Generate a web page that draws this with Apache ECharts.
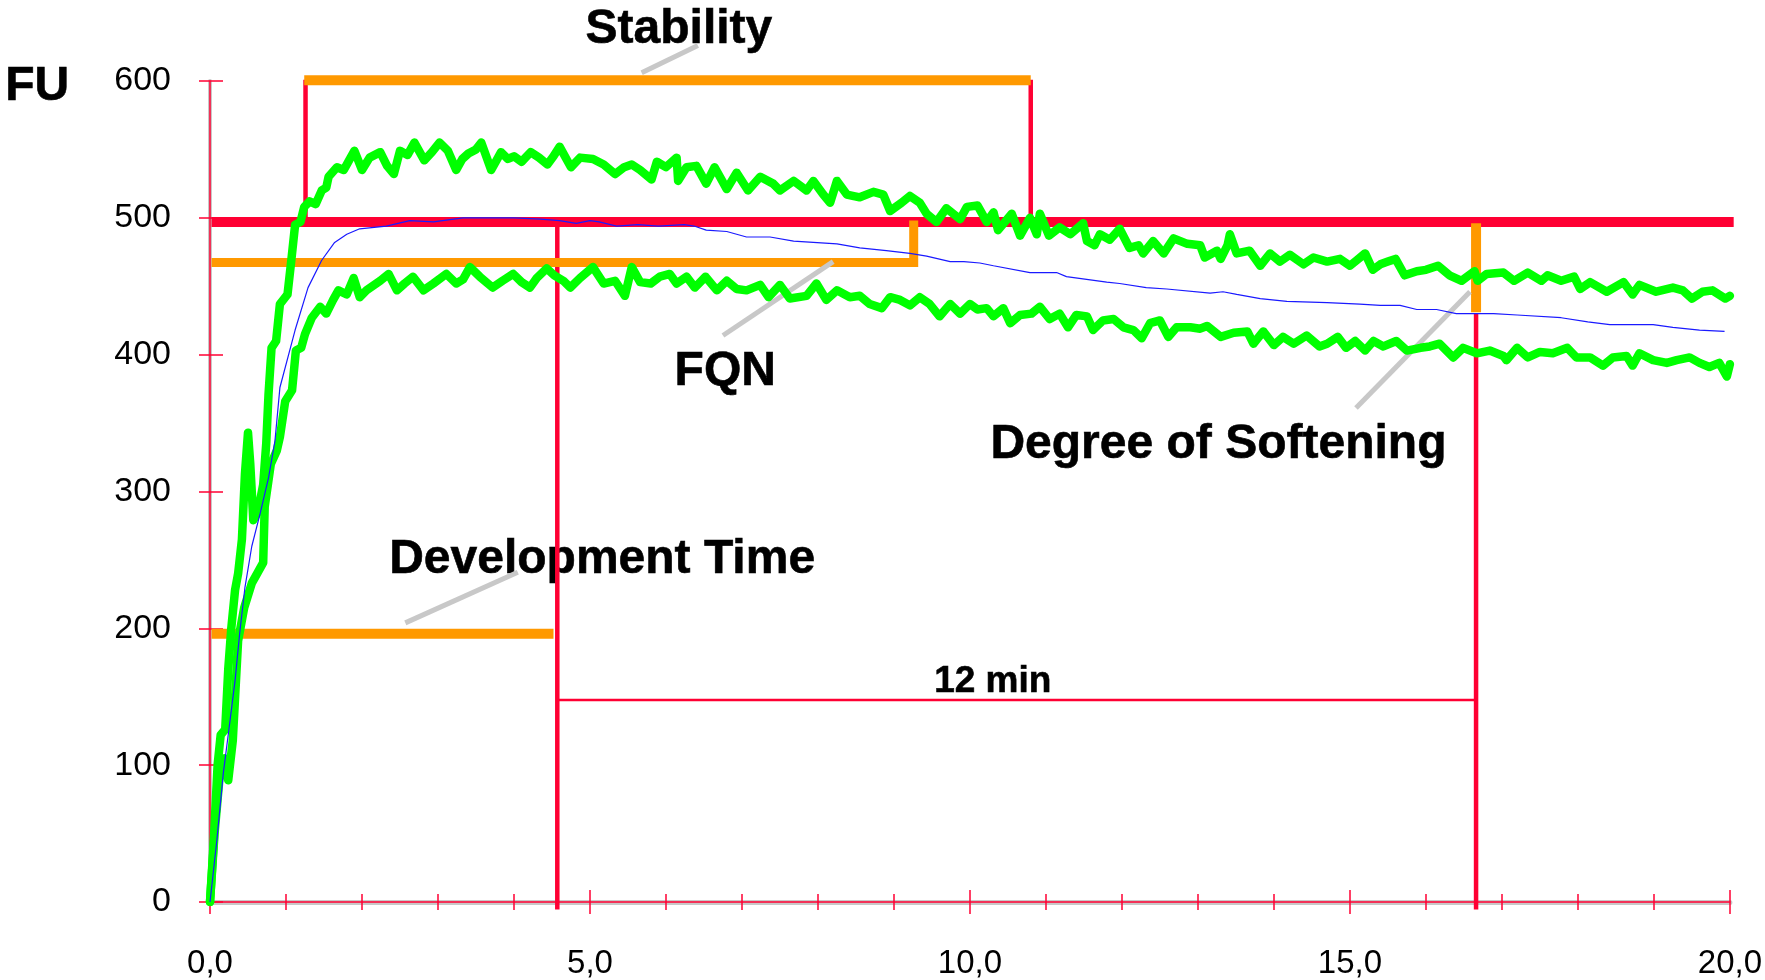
<!DOCTYPE html>
<html>
<head>
<meta charset="utf-8">
<script src="https://cdn.jsdelivr.net/npm/echarts@6/dist/echarts.min.js"></script>
<style>
  html, body { margin: 0; padding: 0; background: #fff; }
  #chart { width: 1765px; height: 980px; }
</style>
</head>
<body>
<div id="chart"></div>
<script>
// farinogram: time in min, consistency in FU
const xTicks = [0, 5, 10, 15, 20]
const yTicks = [0, 100, 200, 300, 400, 500, 600]

// upper edge of the green band
const upperCurve = [
  [0, 0], [0.05, 45], [0.1, 100], [0.14, 122], [0.2, 126], [0.24, 170], [0.28, 200], [0.33, 228],
  [0.37, 240], [0.42, 265], [0.46, 313], [0.5, 343], [0.53, 320], [0.57, 279], [0.63, 285], [0.7, 305],
  [0.74, 335], [0.77, 371], [0.81, 405], [0.87, 410], [0.92, 437], [1.02, 444], [1.07, 469], [1.12, 495],
  [1.19, 497], [1.24, 508], [1.31, 512], [1.39, 510], [1.47, 520], [1.53, 522], [1.56, 530], [1.67, 537],
  [1.76, 535], [1.81, 540], [1.9, 549], [2.0, 535], [2.1, 544], [2.24, 548], [2.33, 538], [2.42, 532],
  [2.5, 549], [2.6, 546], [2.69, 555], [2.82, 542], [2.92, 548], [3.02, 555], [3.13, 549], [3.24, 535],
  [3.32, 543], [3.4, 547], [3.5, 550], [3.57, 555], [3.7, 535], [3.83, 548], [3.92, 543], [4.0, 545],
  [4.1, 541], [4.22, 548], [4.33, 544], [4.44, 539], [4.52, 545], [4.6, 552], [4.75, 537], [4.87, 544],
  [5.04, 543], [5.18, 539], [5.33, 532], [5.45, 537], [5.55, 539], [5.66, 535], [5.81, 528], [5.88, 541],
  [6.0, 537], [6.14, 544], [6.16, 527], [6.27, 537], [6.4, 538], [6.53, 525], [6.64, 537], [6.8, 521],
  [6.93, 533], [7.08, 520], [7.24, 530], [7.41, 525], [7.5, 520], [7.68, 527], [7.85, 520], [7.94, 527],
  [8.07, 517], [8.16, 511], [8.25, 527], [8.38, 517], [8.55, 515], [8.73, 519], [8.86, 517], [8.95, 505],
  [9.1, 511], [9.21, 516], [9.34, 511], [9.43, 503], [9.56, 497], [9.69, 507], [9.87, 499], [9.96, 508],
  [10.1, 509], [10.22, 497], [10.31, 504], [10.37, 491], [10.55, 503], [10.66, 487], [10.79, 500], [10.88, 488],
  [10.92, 503], [11.04, 487], [11.18, 493], [11.32, 488], [11.49, 496], [11.54, 483], [11.64, 480], [11.71, 488],
  [11.84, 484], [11.97, 492], [12.1, 478], [12.22, 480], [12.28, 474], [12.41, 483], [12.55, 474], [12.68, 485],
  [12.86, 481], [13.03, 480], [13.09, 471], [13.25, 476], [13.3, 470], [13.39, 480], [13.42, 488], [13.51, 474],
  [13.68, 476], [13.82, 465], [13.95, 474], [14.08, 468], [14.21, 473], [14.39, 466], [14.52, 471], [14.7, 468],
  [14.87, 470], [15.0, 465], [15.09, 469], [15.2, 474], [15.3, 462], [15.4, 466], [15.5, 468], [15.6, 470],
  [15.72, 458], [15.88, 461], [16.0, 462], [16.16, 465], [16.31, 458], [16.47, 454], [16.64, 461], [16.68, 454],
  [16.8, 459], [17.02, 460], [17.16, 454], [17.34, 460], [17.52, 454], [17.6, 458], [17.78, 454], [17.95, 457],
  [18.03, 448], [18.16, 453], [18.38, 446], [18.6, 453], [18.72, 444], [18.81, 451], [19.03, 446], [19.25, 449],
  [19.38, 447], [19.5, 441], [19.64, 446], [19.77, 447], [19.94, 441], [20.0, 443]
]

// lower edge of the green band
const lowerCurve = [
  [0, 0], [0.06, 50], [0.1, 75], [0.14, 100], [0.19, 105], [0.24, 89], [0.3, 118], [0.37, 191],
  [0.45, 215], [0.55, 233], [0.62, 240], [0.7, 248], [0.72, 289], [0.8, 320], [0.88, 330], [0.92, 340],
  [0.99, 366], [1.08, 374], [1.13, 403], [1.2, 405], [1.25, 415], [1.34, 427], [1.45, 435], [1.53, 430],
  [1.62, 440], [1.69, 447], [1.8, 444], [1.89, 456], [1.97, 442], [2.06, 447], [2.24, 454], [2.35, 459],
  [2.46, 447], [2.56, 452], [2.67, 457], [2.81, 447], [2.94, 452], [3.11, 459], [3.24, 452], [3.33, 455],
  [3.42, 464], [3.55, 457], [3.72, 449], [3.85, 454], [3.99, 459], [4.1, 453], [4.21, 449], [4.3, 456],
  [4.43, 463], [4.53, 458], [4.65, 454], [4.74, 449], [4.87, 456], [5.04, 464], [5.18, 452], [5.33, 454],
  [5.46, 443], [5.55, 464], [5.66, 453], [5.8, 452], [5.92, 457], [6.05, 459], [6.14, 452], [6.27, 457],
  [6.38, 449], [6.52, 457], [6.67, 447], [6.8, 454], [6.93, 448], [7.06, 447], [7.24, 451], [7.35, 442],
  [7.5, 451], [7.63, 441], [7.85, 443], [7.98, 452], [8.11, 440], [8.25, 447], [8.42, 442], [8.55, 443],
  [8.68, 437], [8.84, 434], [8.95, 442], [9.08, 440], [9.21, 436], [9.34, 442], [9.47, 437], [9.6, 428],
  [9.74, 437], [9.87, 430], [10.0, 437], [10.1, 433], [10.22, 434], [10.31, 428], [10.44, 434], [10.53, 423],
  [10.66, 429], [10.81, 430], [10.92, 435], [11.05, 426], [11.18, 430], [11.29, 420], [11.4, 429], [11.54, 428],
  [11.62, 418], [11.75, 425], [11.89, 426], [12.02, 420], [12.15, 418], [12.26, 412], [12.37, 423], [12.5, 425],
  [12.61, 413], [12.72, 420], [12.9, 420], [13.03, 419], [13.12, 421], [13.3, 413], [13.47, 416], [13.65, 417],
  [13.73, 408], [13.86, 417], [14.0, 407], [14.12, 413], [14.26, 408], [14.43, 414], [14.6, 406], [14.7, 408],
  [14.84, 413], [14.95, 405], [15.07, 410], [15.2, 403], [15.31, 410], [15.44, 406], [15.61, 410], [15.75, 403],
  [15.93, 405], [16.05, 406], [16.18, 408], [16.36, 398], [16.49, 405], [16.67, 401], [16.84, 403], [17.02, 399],
  [17.06, 396], [17.2, 405], [17.34, 398], [17.5, 402], [17.67, 401], [17.86, 405], [17.98, 398], [18.16, 398],
  [18.33, 392], [18.46, 398], [18.64, 399], [18.72, 392], [18.81, 401], [18.99, 396], [19.17, 394], [19.3, 396],
  [19.47, 398], [19.6, 394], [19.73, 391], [19.86, 394], [19.96, 384], [20.0, 393]
]

// median curve (blue)
const medianCurve = [
  [0, 0], [0.09, 45], [0.175, 94], [0.26, 131], [0.33, 162], [0.39, 196], [0.46, 230], [0.55, 260],
  [0.66, 284], [0.77, 310], [0.855, 337], [0.92, 376], [1.12, 418], [1.29, 449], [1.47, 469], [1.64, 482],
  [1.8, 488], [1.97, 492], [2.32, 494], [2.63, 498], [2.94, 497], [3.33, 500], [3.6, 500], [4.0, 500],
  [4.35, 499], [4.6, 498], [4.82, 496], [5.0, 498], [5.12, 497], [5.35, 494], [5.63, 495], [5.9, 494],
  [6.24, 495], [6.37, 494], [6.53, 491], [6.8, 490], [7.06, 486], [7.37, 486], [7.68, 483], [8.25, 481],
  [8.55, 478], [8.9, 476], [9.21, 474], [9.43, 472], [9.74, 468], [9.92, 468], [10.13, 467], [10.31, 465],
  [10.79, 460], [11.14, 460], [11.27, 457], [11.8, 453], [11.97, 452], [12.32, 449], [12.59, 448], [13.16, 445],
  [13.33, 446], [13.51, 444], [13.82, 441], [14.17, 439], [14.7, 438], [15.13, 437], [15.4, 436], [15.66, 436],
  [15.88, 433], [16.14, 433], [16.4, 430], [16.89, 430], [17.2, 429], [17.78, 427], [18.13, 424], [18.42, 422],
  [18.99, 422], [19.25, 420], [19.6, 418], [19.93, 417]
]

// evaluation marks
const line500 = [[0.02, 497], [20.05, 497]]
const stabilityTop = [[1.24, 600.5], [10.8, 600.5]]
const stabilityLeft = [[1.257, 601], [1.257, 497]]
const stabilityRight = [[10.8, 601], [10.8, 497]]
const devTimeBar = [[0.02, 196], [4.52, 196]]
const devTimeDrop = [[4.57, 497], [4.57, -5.5]]
const fqnBar = [[0.02, 467.4], [9.26, 467.4], [9.26, 498]]
const softeningBar = [[16.66, 496], [16.66, 431]]
const softeningDrop = [[16.66, 430], [16.66, -5.5]]
const twelveMin = [[4.57, 147.7], [16.66, 147.7]]

// grey pointer lines
const stabilityPointer = [[5.68, 606], [6.42, 626]]
const devTimePointer = [[2.57, 204], [4.05, 241]]
const fqnPointer = [[6.75, 414], [8.2, 468]]
const softeningPointer = [[15.08, 361], [16.58, 446]]

const noteTexts = ['Stability', 'Development Time', 'FQN', 'Degree of Softening']
const notePos = [[6.17, 637.5], [5.16, 250], [6.78, 387.5], [13.27, 334.5]]

const RED = '#ff0033'
const ORANGE = '#ff9900'
const GREEN = '#00ff00'
const GREY = '#c8c8c8'
const FONT = 'Liberation Sans'

function seg(data, color, width) {
  return {
    type: 'line',
    data: data,
    symbol: 'none',
    clip: false,
    silent: true,
    lineStyle: { color: color, width: width, cap: 'butt', join: 'miter' }
  }
}

// text notes anchored at data coordinates (scatter dims to 0.8 by default)
function notes(data, size) {
  return {
    type: 'scatter', silent: true, clip: false, symbolSize: 0,
    itemStyle: { color: '#000', opacity: 1 },
    data: data,
    label: {
      show: true, position: 'inside', formatter: '{b}',
      fontFamily: FONT, fontWeight: 'bold', fontSize: size, color: '#000',
      textBorderColor: '#000', textBorderWidth: 0.6
    }
  }
}

const chart = echarts.init(document.getElementById('chart'))

const option = {
  animation: false,
  backgroundColor: '#fff',
  grid: { left: 210, right: 35, top: 81, bottom: 78 },
  xAxis: [
    {
      type: 'value', min: xTicks[0], max: xTicks[xTicks.length - 1], interval: 5,
      position: 'bottom',
      axisLine: { show: true, lineStyle: { color: GREY, width: 5 } },
      axisTick: { show: true, length: 12, lineStyle: { color: RED, width: 1.5 } },
      minorTick: { show: true, splitNumber: 5, length: 8, lineStyle: { color: RED, width: 1.5 } },
      axisLabel: {
        margin: 45, fontSize: 33, color: '#000', fontFamily: FONT,
        formatter: v => v.toFixed(1).replace('.', ',')
      },
      splitLine: { show: false }
    },
    {
      type: 'value', min: xTicks[0], max: xTicks[xTicks.length - 1], interval: 5,
      position: 'bottom',
      axisLine: { show: true, lineStyle: { color: RED, width: 1.5 } },
      axisTick: { show: true, inside: true, length: 12, lineStyle: { color: RED, width: 1.5 } },
      minorTick: { show: true, splitNumber: 5, length: 8, lineStyle: { color: RED, width: 1.5 } },
      axisLabel: { show: false },
      splitLine: { show: false }
    }
  ],
  yAxis: [
    {
      type: 'value', min: yTicks[0], max: yTicks[yTicks.length - 1], interval: 100,
      position: 'left', offset: 2,
      axisLine: { show: true, lineStyle: { color: GREY, width: 4 } },
      axisTick: { show: true, length: 11, lineStyle: { color: RED, width: 1.5 } },
      axisLabel: { margin: 37, fontSize: 34, color: '#000', fontFamily: FONT },
      splitLine: { show: false }
    },
    {
      type: 'value', min: yTicks[0], max: yTicks[yTicks.length - 1], interval: 100,
      position: 'left',
      axisLine: { show: true, lineStyle: { color: RED, width: 1.5 } },
      axisTick: { show: true, inside: true, length: 13, lineStyle: { color: RED, width: 1.5 } },
      axisLabel: { show: false },
      splitLine: { show: false }
    }
  ],
  graphic: [{
    type: 'text', left: 5, top: 62,
    style: {
      text: 'FU', fontFamily: FONT, fontWeight: 'bold', fontSize: 48, fill: '#000',
      stroke: '#000', lineWidth: 0.6
    }
  }],
  series: [
    seg(line500, RED, 10),
    seg(stabilityLeft, RED, 4.5),
    seg(stabilityRight, RED, 4.5),
    seg(stabilityTop, ORANGE, 10),
    seg(devTimeDrop, RED, 4.5),
    seg(devTimeBar, ORANGE, 10),
    seg(fqnBar, ORANGE, 9),
    seg(softeningDrop, RED, 4.5),
    seg(softeningBar, ORANGE, 10),
    seg(twelveMin, RED, 2.5),
    seg(stabilityPointer, GREY, 5),
    seg(devTimePointer, GREY, 5),
    seg(fqnPointer, GREY, 5),
    seg(softeningPointer, GREY, 5),
    {
      type: 'line', data: lowerCurve, symbol: 'none', silent: true,
      lineStyle: { color: GREEN, width: 8.5, cap: 'round', join: 'round' }
    },
    {
      type: 'line', data: upperCurve, symbol: 'none', silent: true,
      lineStyle: { color: GREEN, width: 8.5, cap: 'round', join: 'round' }
    },
    {
      type: 'line', data: medianCurve, symbol: 'none', silent: true,
      lineStyle: { color: '#1a1aff', width: 1.2 }
    },
    notes(noteTexts.map((t, i) => ({ name: t, value: notePos[i] })), 48),
    notes([{ name: '12 min', value: [10.3, 161] }], 37)
  ]
}

chart.setOption(option)
</script>
</body>
</html>
